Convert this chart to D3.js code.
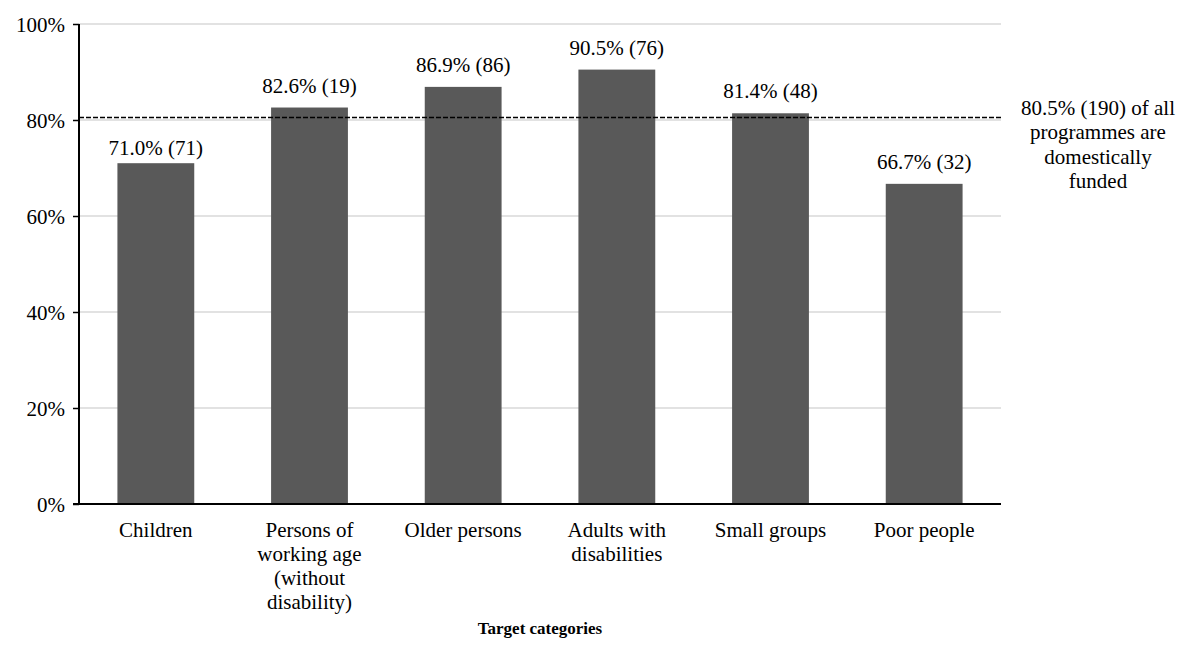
<!DOCTYPE html>
<html>
<head>
<meta charset="utf-8">
<script src="https://cdn.jsdelivr.net/npm/d3@7"></script>
<style>
  html, body { margin: 0; padding: 0; background: #fff; }
  svg { display: block; }
  svg text { font-family: 'Liberation Serif', 'Times New Roman', serif; fill: #000; }
</style>
</head>
<body>
<svg id="chart" width="1178" height="646"></svg>
<script>
// Share of programmes that are domestically funded, by target category
const categories = [
  ["Children"],
  ["Persons of", "working age", "(without", "disability)"],
  ["Older persons"],
  ["Adults with", "disabilities"],
  ["Small groups"],
  ["Poor people"]
];
const shares = [71.0, 82.6, 86.9, 90.5, 81.4, 66.7];
const counts = [71, 19, 86, 76, 48, 32];
const overallShare = 80.5;
const overallNote = ["80.5% (190) of all", "programmes are", "domestically", "funded"];
const yTicks = [0, 20, 40, 60, 80, 100];
const xTitle = "Target categories";

const FONT = "'Liberation Serif', 'Times New Roman', serif";
const FS = "21px";

const svg = d3.select("#chart");
const W = 1178, H = 646;
const margin = { left: 79, right: 177, top: 24, bottom: 142 };
const x0 = margin.left, x1 = W - margin.right;
const y0 = H - margin.bottom, y1 = margin.top;

const x = d3.scaleBand().domain(d3.range(categories.length)).range([x0, x1]).paddingInner(0.5).paddingOuter(0.25);
const y = d3.scaleLinear().domain([0, 100]).range([y0, y1]);

// gridlines
svg.append("g")
  .selectAll("line")
  .data(yTicks.filter(d => d > 0))
  .join("line")
  .attr("x1", x0).attr("x2", x1)
  .attr("y1", d => y(d)).attr("y2", d => y(d))
  .attr("stroke", "#d9d9d9").attr("stroke-width", 1.5);

// bars
svg.append("g")
  .selectAll("rect")
  .data(shares)
  .join("rect")
  .attr("x", (d, i) => x(i))
  .attr("width", x.bandwidth())
  .attr("y", d => y(d))
  .attr("height", d => y(0) - y(d))
  .attr("fill", "#595959");

// value labels (the first one sits a little closer to its bar)
svg.append("g")
  .selectAll("text")
  .data(shares)
  .join("text")
  .attr("x", (d, i) => x(i) + x.bandwidth() / 2)
  .attr("y", (d, i) => y(d) - (i === 0 ? 8 : 15))
  .attr("text-anchor", "middle")
  .style("font-family", FONT).style("font-size", FS)
  .text((d, i) => d.toFixed(1) + "% (" + counts[i] + ")");

// overall average reference line
svg.append("line")
  .attr("x1", x0).attr("x2", x1)
  .attr("y1", y(overallShare)).attr("y2", y(overallShare))
  .attr("stroke", "#000").attr("stroke-width", 1.5)
  .attr("stroke-dasharray", "5,2");

const note = svg.append("text")
  .attr("text-anchor", "middle")
  .style("font-family", FONT).style("font-size", FS);
overallNote.forEach((t, i) => {
  note.append("tspan").attr("x", 1098).attr("y", y(overallShare) - 3 + i * 24.5).text(t);
});

// y axis
const yAxis = svg.append("g")
  .attr("transform", `translate(${x0},0)`)
  .call(d3.axisLeft(y).tickValues(yTicks).tickFormat(d => d + "%").tickSize(6).tickPadding(8));
yAxis.select(".domain").attr("stroke", "#000").attr("stroke-width", 2).attr("d", `M0,${y1}V${y0}`);
yAxis.selectAll(".tick line").attr("stroke", "#000").attr("stroke-width", 1.5);
yAxis.selectAll(".tick text")
  .style("font-family", FONT).style("font-size", FS).attr("dy", "0.34em");

// x axis
svg.append("line")
  .attr("x1", x0 - 6).attr("x2", x1)
  .attr("y1", y0).attr("y2", y0)
  .attr("stroke", "#000").attr("stroke-width", 2);

svg.append("g")
  .selectAll("text")
  .data(categories)
  .join("text")
  .attr("text-anchor", "middle")
  .style("font-family", FONT).style("font-size", FS)
  .each(function (lines, i) {
    const t = d3.select(this);
    lines.forEach((ln, j) => {
      t.append("tspan")
        .attr("x", x(i) + x.bandwidth() / 2)
        .attr("y", y0 + 33 + j * 24)
        .text(ln);
    });
  });

svg.append("text")
  .attr("x", (x0 + x1) / 2)
  .attr("y", 634)
  .attr("text-anchor", "middle")
  .style("font-family", FONT).style("font-size", "17px")
  .style("font-weight", "bold")
  .text(xTitle);
</script>
</body>
</html>
